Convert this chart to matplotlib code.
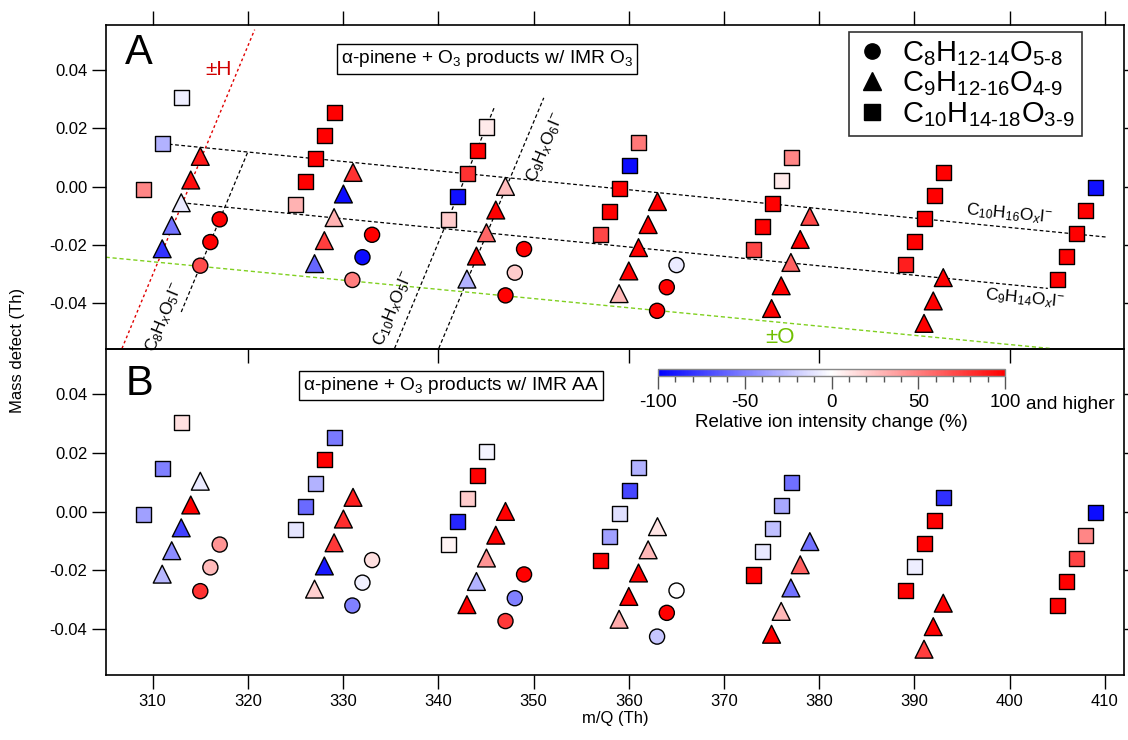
import matplotlib
matplotlib.use('Agg')
import matplotlib.pyplot as plt
from matplotlib.colors import LinearSegmentedColormap, Normalize
from matplotlib.lines import Line2D
import matplotlib.ticker as mticker
import matplotlib.cm as cm

plt.rcParams['font.family'] = ['Liberation Sans', 'DejaVu Sans']
plt.rcParams['mathtext.fontset'] = 'custom'
plt.rcParams['mathtext.rm'] = 'Liberation Sans'
plt.rcParams['mathtext.it'] = 'Liberation Sans:italic'
plt.rcParams['mathtext.bf'] = 'Liberation Sans:bold'
plt.rcParams['axes.unicode_minus'] = False

# ---------------- data ----------------
# C8 species (circles): m/Q, mass defect, relative change (%) in A (IMR O3) and B (IMR AA)
c8_mz = [317.04, 316.06, 315.0, 333.04, 332.03, 330.97, 349.0, 348.03, 347.05, 365.01, 363.99, 362.97]
c8_md = [-0.0112, -0.0190, -0.0271, -0.0165, -0.0242, -0.0320, -0.0214, -0.0295, -0.0373, -0.0269, -0.0345, -0.0426]
c8_A = [100, 100, 70, 100, -95, 50, 100, 20, 100, -8, 100, 100]
c8_B = [42, 27, 80, 12, -6, -50, 100, -50, 78, 0, 100, -22]

# C9 species (triangles)
c9_mz = [315.0, 314.0, 313.0, 312.0, 311.0, 331.04, 330.03, 329.05, 328.03, 327.0,
         347.05, 346.03, 345.05, 344.0, 343.0, 363.01, 362.03, 361.02, 360.0, 358.98,
         379.01, 378.0, 377.02, 376.0, 374.99, 393.02, 391.97, 391.0]
c9_md = [0.0104, 0.0023, -0.0055, -0.0133, -0.0213, 0.0049, -0.0025, -0.0106, -0.0185, -0.0264,
         0.0001, -0.0080, -0.0158, -0.0238, -0.0317, -0.0051, -0.0130, -0.0209, -0.0289, -0.0367,
         -0.0102, -0.0181, -0.0260, -0.0340, -0.0418, -0.0312, -0.0392, -0.0469]
c9_A = [90, 95, -8, -55, -80, 80, -95, 30, 75, -60, 25, 100, 60, 100, -30,
        100, 100, 100, 100, 28, 72, 100, 62, 100, 100, 100, 100, 100]
c9_B = [-8, 100, -75, -45, -28, 88, 82, 78, -90, 18, 100, 100, 42, -30, 100,
        10, 28, 100, 100, 33, -55, 62, -55, 28, 100, 100, 100, 75]

# C10 species (squares)
c10_mz = [313.05, 311.05, 309.02, 329.1, 328.07, 327.07, 326.05, 325.03,
          345.05, 344.07, 343.07, 342.04, 341.06, 361.05, 360.07, 359.05, 358.0, 357.03,
          377.05, 376.04, 375.05, 374.04, 373.06, 393.09, 392.07, 391.06, 390.04, 389.02,
          409.02, 408.0, 406.99, 406.0, 404.99]
c10_md = [0.0305, 0.0148, -0.0010, 0.0254, 0.0177, 0.0097, 0.0017, -0.0061,
          0.0205, 0.0125, 0.0045, -0.0034, -0.0112, 0.0152, 0.0073, -0.0006, -0.0085, -0.0165,
          0.0100, 0.0021, -0.0058, -0.0137, -0.0216, 0.0049, -0.0030, -0.0109, -0.0188, -0.0268,
          -0.0002, -0.0082, -0.0161, -0.0239, -0.0319]
c10_A = [-7, -30, 47, 100, 100, 100, 100, 30, 8, 100, 80, -93, 20, 53, -95, 100, 100, 72,
         47, 8, 100, 100, 72, 100, 100, 100, 100, 88, -93, 100, 100, 100, 100]
c10_B = [12, -50, -37, -52, 100, -30, -58, -10, -4, 100, 20, -85, 4, -30, -72, -12, -37, 100,
         -56, -34, -25, -9, 100, -81, 100, 100, -7, 100, -95, 47, 73, 100, 100]

legend_labels = [r'C$_8$H$_{12\text{-}14}$O$_{5\text{-}8}$',
                 r'C$_9$H$_{12\text{-}16}$O$_{4\text{-}9}$',
                 r'C$_{10}$H$_{14\text{-}18}$O$_{3\text{-}9}$']
x_ticks = [310, 320, 330, 340, 350, 360, 370, 380, 390, 400, 410]
y_ticks = [-0.04, -0.02, 0.0, 0.02, 0.04]
cbar_ticks = [-100, -50, 0, 50, 100]

# guide lines: (x_start, y_start, x_end, y_end)
line_H = (306.78, -0.0555, 320.71, 0.0539)
line_O = (305.06, -0.0242, 404.2, -0.0555)
line_C10H16 = (311.05, 0.0148, 410.2, -0.0173)
line_C9H14 = (313.0, -0.0055, 404.0, -0.0349)
line_C8O5 = (313.0, -0.0430, 320.0, 0.0120)
line_C10O5 = (335.4, -0.0555, 345.9, 0.0274)
line_C9O6 = (340.04, -0.0555, 351.07, 0.0305)

# ---------------- figure ----------------
fig = plt.figure(figsize=(11.28, 7.40), dpi=100)
W, H = 1128, 740
left, right = 106, 1124
axA = fig.add_axes([left / W, 1 - 349 / H, (right - left) / W, 324 / H])
axB = fig.add_axes([left / W, 1 - 675 / H, (right - left) / W, 326 / H])
axA.set_zorder(3)
axA.patch.set_alpha(0.0)
axB.set_zorder(1)

cmap = LinearSegmentedColormap.from_list('bwr_custom', [(0, 0, 1), (1, 1, 1), (1, 0, 0)])
norm = Normalize(vmin=-100, vmax=100)

sq_s, ci_s, tr_s = 118, 118, 165
for ax, ca, cb, cc in [(axA, c8_A, c9_A, c10_A), (axB, c8_B, c9_B, c10_B)]:
    ax.scatter(c8_mz, c8_md, c=ca, cmap=cmap, norm=norm, marker='o', s=ci_s,
               edgecolors='black', linewidths=1.0, zorder=5)
    ax.scatter(c9_mz, c9_md, c=cb, cmap=cmap, norm=norm, marker='^', s=tr_s,
               edgecolors='black', linewidths=1.0, zorder=5)
    ax.scatter(c10_mz, c10_md, c=cc, cmap=cmap, norm=norm, marker='s', s=sq_s,
               edgecolors='black', linewidths=1.0, zorder=5)
    ax.set_xlim(305.1, 412.0)
    ax.set_ylim(-0.0557, 0.0555)
    ax.set_yticks(y_ticks)
    ax.yaxis.set_major_formatter(mticker.FuncFormatter(lambda v, p: '%.2f' % v if abs(v) > 1e-9 else '0.00'))
    ax.tick_params(axis='y', which='major', direction='out', length=10, width=1,
                   left=True, right=True, labelsize=12, labelleft=True, labelright=False)
    for sp in ax.spines.values():
        sp.set_linewidth(1.2)

# x ticks
axA.set_xticks(x_ticks)
axA.set_xticks([320, 340, 360, 380, 400], minor=True)
axA.xaxis.remove_overlapping_locs = False
axA.tick_params(axis='x', which='major', direction='out', length=10, width=1,
                top=True, bottom=False, labeltop=False, labelbottom=False)
axA.tick_params(axis='x', which='minor', direction='out', length=10, width=1,
                top=False, bottom=True, labelbottom=False)
axB.set_xticks(x_ticks)
axB.tick_params(axis='x', which='major', direction='out', length=10, width=1,
                top=False, bottom=True, labelsize=12, pad=4)
axB.set_xlabel('m/Q (Th)', fontsize=12, labelpad=1)
fig.text(18 / W, 1 - 350 / H, 'Mass defect (Th)', rotation=90, ha='center', va='center', fontsize=12)

dash = (0, (3, 2))
def seg(ax, ln, **kw):
    ax.plot([ln[0], ln[2]], [ln[1], ln[3]], **kw)

seg(axA, line_H, color='#e00000', lw=1.0, ls=(0, (2, 2)), zorder=2)
seg(axA, line_O, color='#80d020', lw=1.0, ls=dash, zorder=2)
for ln in [line_C10H16, line_C9H14, line_C8O5, line_C10O5, line_C9O6]:
    seg(axA, ln, color='black', lw=0.9, ls=dash, zorder=2)

axA.text(316.9, 0.0402, '±H', color='#d00000', fontsize=15, ha='center', va='center')
axA.text(375.9, -0.0517, '±O', color='#70c000', fontsize=16, ha='center', va='center')
axA.text(399.9, -0.0093, r'C$_{10}$H$_{16}$O$_x$I$^{-}$', fontsize=12.5, ha='center', va='center', rotation=-5.5)
axA.text(401.6, -0.0384, r'C$_9$H$_{14}$O$_x$I$^{-}$', fontsize=12.5, ha='center', va='center', rotation=-5.5)
axA.text(311.2, -0.0448, r'C$_8$H$_x$O$_5$I$^{-}$', fontsize=12.5, ha='center', va='center', rotation=67.5)
axA.text(335.3, -0.0418, r'C$_{10}$H$_x$O$_5$I$^{-}$', fontsize=12.5, ha='center', va='center', rotation=67.5)
axA.text(351.2, 0.0134, r'C$_9$H$_x$O$_6$I$^{-}$', fontsize=12.5, ha='center', va='center', rotation=67.5)

axA.text(0.019, 0.975, 'A', transform=axA.transAxes, fontsize=30, ha='left', va='top')
axB.text(0.019, 0.955, 'B', transform=axB.transAxes, fontsize=30, ha='left', va='top')

box = dict(boxstyle='square,pad=0.22', fc='white', ec='black', lw=1.0)
axA.text(345.1, 0.0439, r'α-pinene + O$_3$ products w/ IMR O$_3$', fontsize=13.8, ha='center', va='center', bbox=box)
axB.text(341.3, 0.0431, r'α-pinene + O$_3$ products w/ IMR AA', fontsize=13.8, ha='center', va='center', bbox=box)

handles = [Line2D([], [], marker='o', color='black', ls='none', markersize=11),
           Line2D([], [], marker='^', color='black', ls='none', markersize=13),
           Line2D([], [], marker='s', color='black', ls='none', markersize=11)]
leg = axA.legend(handles, legend_labels, loc='upper right', bbox_to_anchor=(0.959, 0.978),
                 fontsize=21, frameon=True, fancybox=False, edgecolor='black',
                 borderpad=0.25, labelspacing=0.05, handletextpad=0.5, handlelength=1.1,
                 borderaxespad=0.0)
leg.get_frame().set_linewidth(1.2)
leg.set_zorder(10)

# colorbar
cax = fig.add_axes([658 / W, 1 - 376 / H, (1005 - 658) / W, 7 / H])
cax.set_zorder(4)
cb = fig.colorbar(cm.ScalarMappable(norm=norm, cmap=cmap), cax=cax, orientation='horizontal')
cb.set_ticks(cbar_ticks)
cb.ax.xaxis.set_minor_locator(mticker.MultipleLocator(10))
cb.ax.tick_params(which='major', direction='out', length=9, width=1, color='#555555', labelsize=13.5, pad=4)
cb.ax.tick_params(which='minor', direction='out', length=4.5, width=1, color='#555555')
cb.outline.set_edgecolor('#888888')
cb.outline.set_linewidth(1)
cb.set_label('Relative ion intensity change (%)', fontsize=13.5, labelpad=2)
fig.text(1026 / W, 1 - 405 / H, 'and higher', fontsize=13.5, ha='left', va='center')

fig.savefig('out.png', dpi=100)
